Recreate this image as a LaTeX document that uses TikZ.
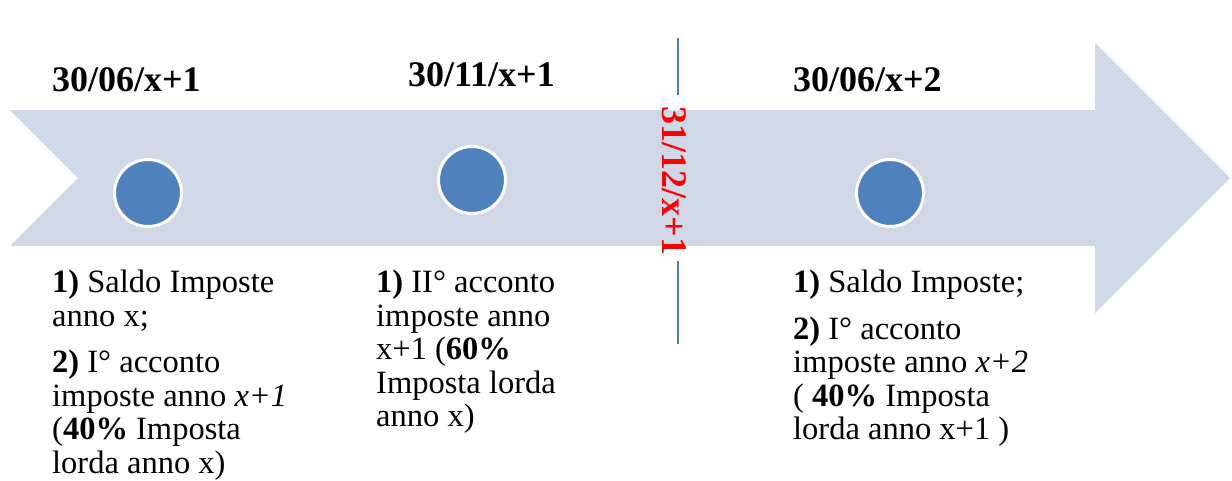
\documentclass[tikz,border=0pt]{standalone}
\usepackage{fontspec}
\setmainfont{Liberation Serif}
\definecolor{arrowfill}{RGB}{208,216,232}
\definecolor{dotblue}{RGB}{79,129,189}
\definecolor{linecol}{RGB}{74,126,187}
\begin{document}
\begin{tikzpicture}[x=1pt,y=-1pt,
 dot/.style={circle,fill=dotblue,draw=white,line width=3pt,minimum size=67pt,inner sep=0pt},
 datelabel/.style={font=\bfseries\fontsize{36}{40}\selectfont,anchor=base west,inner sep=0pt},
 desc/.style={font=\fontsize{32.5}{33.5}\selectfont,anchor=north west,inner sep=0pt,align=left},
 divider/.style={draw=linecol,line width=1.6pt},
]
\useasboundingbox (0,0) rectangle (1232,480);
\fill[arrowfill] (10,110) -- (1095,110) -- (1095,43) -- (1230,178) -- (1095,313) -- (1095,246) -- (10,246) -- (78,178) -- cycle;

\node[dot] (d1) at (148,193) {};
\node[dot] (d2) at (472,180) {};
\node[dot] (d3) at (890,193) {};

\node[datelabel] (t1) at (52,91) {30/06/x+1};
\node[datelabel] (t2) at (408,86) {30/11/x+1};
\node[datelabel] (t3) at (793,91) {30/06/x+2};

\node[rotate=-90,text=red,font=\bfseries\fontsize{36}{40}\selectfont,inner sep=0pt] (ye) at (674,181) {31/12/x+1};
\coordinate (l1a) at (678,38);
\coordinate (l1b) at (678,95);
\coordinate (l2a) at (678,261);
\coordinate (l2b) at (678,344);
\draw[divider] (l1a) -- (l1b);
\draw[divider] (l2a) -- (l2b);

\node[desc] (b1) at (52,270) {\textbf{1)} Saldo Imposte\\ anno x;\\[13pt] \textbf{2)} I° acconto\\ imposte anno \textit{x+1}\\ (\textbf{40\%} Imposta\\ lorda anno x)};
\node[desc] (b2) at (376,270) {\textbf{1)} II° acconto\\ imposte anno\\ x+1 (\textbf{60\%}\\ Imposta lorda\\ anno x)};
\node[desc] (b3) at (793,270) {\textbf{1)} Saldo Imposte;\\[13pt] \textbf{2)} I° acconto\\ imposte anno \textit{x+2}\\ ( \textbf{40\%} Imposta\\ lorda anno x+1 )};
\end{tikzpicture}
\end{document}
